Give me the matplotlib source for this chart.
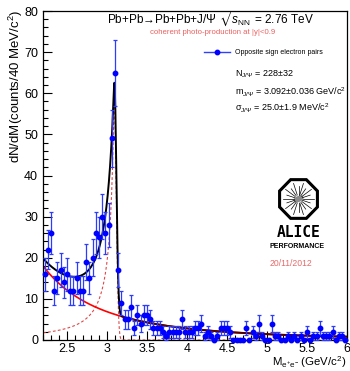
import matplotlib
import numpy as np

matplotlib.use("Agg")
import matplotlib.pyplot as plt
from matplotlib.lines import Line2D
from matplotlib.patches import Ellipse, RegularPolygon
from matplotlib.ticker import FuncFormatter, MultipleLocator

plt.rcParams["font.family"] = ["Liberation Sans", "DejaVu Sans"]
plt.rcParams["mathtext.fontset"] = "custom"
plt.rcParams["mathtext.rm"] = "Liberation Sans"
plt.rcParams["mathtext.it"] = "Liberation Sans:italic"
plt.rcParams["mathtext.bf"] = "Liberation Sans:bold"
plt.rcParams["mathtext.fallback"] = "stixsans"

# invariant mass spectrum, 40 MeV/c^2 bins from 2.2 to 6.0 GeV/c^2
BIN_WIDTH = 0.04
MASS_LO, MASS_HI = 2.2, 6.0
counts = np.array([
    16, 22, 26, 12, 15, 17, 14, 16, 12, 12, 15, 12, 12, 19, 15, 20,
    26, 25, 30, 26, 28, 49, 65, 17, 9, 5, 5, 8, 3, 6, 4, 6,
    6, 5, 3, 3, 3, 2, 1, 2, 2, 2, 2, 5, 2, 2, 2, 3,
    3, 4, 1, 2, 1, 0, 1, 3, 3, 3, 2, 0, 0, 0, 0, 3,
    0, 2, 1, 4, 1, 0, 0, 4, 1, 1, 0, 0, 1, 0, 1, 0,
    1, 0, 2, 0, 1, 1, 3, 1, 1, 1, 2, 0, 1, 1, 0,
], dtype=float)
mass_centers = MASS_LO + BIN_WIDTH * (np.arange(len(counts)) + 0.5)

# fit results
jpsi_n, jpsi_n_err = 228, 32
jpsi_mass, jpsi_mass_err = 3.092, 0.036
jpsi_sigma, jpsi_sigma_err = 0.0250, 0.0019
fit_peak, fit_alpha, fit_n = 56.3, 0.25, 2.0
bg_norm, bg_index = 18.0, 3.1
# coherent J/psi template (dashed)
tmpl_peak, tmpl_alpha, tmpl_n = 57.0, 0.46, 1.3


def crystal_ball(m, mu, sigma, alpha, n):
    t = (m - mu) / sigma
    a = (n / alpha) ** n * np.exp(-0.5 * alpha ** 2)
    b = n / alpha - alpha
    out = np.exp(-0.5 * t ** 2)
    tail = t < -alpha
    out[tail] = a * (b - t[tail]) ** (-n)
    return out


def background(m):
    return bg_norm * (m / MASS_LO) ** (-bg_index)


m = np.linspace(MASS_LO, MASS_HI, 2000)
bkg = background(m)
total = bkg + fit_peak * crystal_ball(m, jpsi_mass, jpsi_sigma, fit_alpha, fit_n)
template = tmpl_peak * crystal_ball(m, jpsi_mass, jpsi_sigma, tmpl_alpha, tmpl_n)

W, H = 350, 371
fig = plt.figure(figsize=(W / 100, H / 100), dpi=100)
ax = fig.add_axes([43 / W, 31 / H, 304 / W, 329 / H])

ax.plot(m, template, color="#e04848", lw=0.8, ls=(0, (2.5, 2)), zorder=2)
ax.plot(m, bkg, color="#ff0000", lw=1.2, zorder=2)
ax.plot(m, total, color="black", lw=1.4, zorder=2.5)
tail = m > 3.2
ax.plot(m[tail], bkg[tail], color="#ff0000", lw=1.2, alpha=0.35, zorder=2.6)

ax.errorbar(mass_centers, counts, yerr=np.sqrt(counts), fmt="o", ms=3.2,
            color="#0000ff", ecolor="#2b3cff", elinewidth=0.9,
            capsize=1.3, capthick=0.9, zorder=3, clip_on=False)

ax.set_xlim(MASS_LO, MASS_HI)
ax.set_ylim(0, 80)
ax.xaxis.set_major_locator(MultipleLocator(0.5))
ax.xaxis.set_minor_locator(MultipleLocator(0.1))
ax.yaxis.set_major_locator(MultipleLocator(10))
ax.yaxis.set_minor_locator(MultipleLocator(2))
ax.xaxis.set_major_formatter(FuncFormatter(lambda v, _: f"{v:g}"))
ax.tick_params(which="both", direction="in", top=False, right=False,
               labelsize=9, width=0.8)
ax.tick_params(which="major", length=6.5)
ax.tick_params(which="minor", length=3.5)
ax.tick_params(axis="x", pad=2)
ax.tick_params(axis="y", pad=3.5)
for spine in ax.spines.values():
    spine.set_linewidth(0.9)

fig.text(15.5 / W, 1 - 10 / H, r"dN/dM(counts/40 MeV/c$^{2}$)",
         rotation=90, ha="center", va="top", fontsize=9.5)
fig.text(346 / W, 1 - 370.5 / H, r"M$_{\rm e^{+}e^{-}}$ (GeV/c$^{2}$)",
         ha="right", va="bottom", fontsize=8.2)

fig.text(211 / W, 1 - 19 / H,
         r"Pb+Pb→Pb+Pb+J/Ψ $\sqrt{s_{\rm NN}}$ = 2.76 TeV",
         ha="center", va="center", fontsize=8.5)
fig.text(212.5 / W, 1 - 33 / H, "coherent photo-production at |y|<0.9",
         ha="center", va="center", fontsize=5.6, color="#ea6060")

ax.legend(handles=[Line2D([], [], color="#3040ff", marker="o", ms=3.2,
                          mfc="#0000ff", mec="#0000ff", lw=1)],
          labels=["Opposite sign electron pairs"], loc="center left",
          bbox_to_anchor=((204 - 43) / 304, (340 - 53) / 329),
          frameon=False, fontsize=5, handlelength=3.7, handletextpad=0.7,
          borderpad=0, borderaxespad=0)

fig.text(235 / W, 1 - 74 / H, rf"N$_{{\rm J/\Psi}}$ = {jpsi_n}±{jpsi_n_err}",
         ha="left", va="center", fontsize=6.5)
fig.text(235 / W, 1 - 92 / H,
         rf"m$_{{\rm J/\Psi}}$ = {jpsi_mass:.3f}±{jpsi_mass_err:.3f} GeV/c$^{{2}}$",
         ha="left", va="center", fontsize=6.5)
fig.text(235 / W, 1 - 108 / H,
         rf"σ$_{{\rm J/\Psi}}$ = {jpsi_sigma * 1000:.1f}±{jpsi_sigma_err * 1000:.1f} MeV/c$^{{2}}$",
         ha="left", va="center", fontsize=6.5)

# experiment logo
logo = fig.add_axes([277 / W, 1 - 221 / H, 43 / W, 44 / H])
logo.set_xlim(-1.05, 1.05)
logo.set_ylim(-1.05, 1.05)
logo.axis("off")
logo.add_patch(RegularPolygon((0, 0), 8, radius=1.0, orientation=np.pi / 8,
                              facecolor="white", edgecolor="black", lw=2.2))
for k, ang in enumerate(np.linspace(0, 2 * np.pi, 20, endpoint=False)):
    r1 = 0.78 if k % 2 == 0 else 0.6
    logo.plot([0.2 * np.cos(ang), r1 * np.cos(ang)],
              [0.2 * np.sin(ang), r1 * np.sin(ang)], color="black", lw=0.5)
logo.add_patch(Ellipse((0, 0), 0.45, 0.22, angle=20, color="#8a8a8a"))

fig.text(298.5 / W, 1 - 233 / H, "ALICE", ha="center", va="center",
         fontsize=10.5, fontweight="bold", family="DejaVu Sans Mono")
fig.text(297 / W, 1 - 247 / H, "PERFORMANCE", ha="center", va="center",
         fontsize=5, fontweight="bold")
fig.text(291 / W, 1 - 263 / H, "20/11/2012", ha="center", va="center",
         fontsize=6.2, color="#e66a6a")

fig.savefig("out.png", dpi=100)
plt.close(fig)
